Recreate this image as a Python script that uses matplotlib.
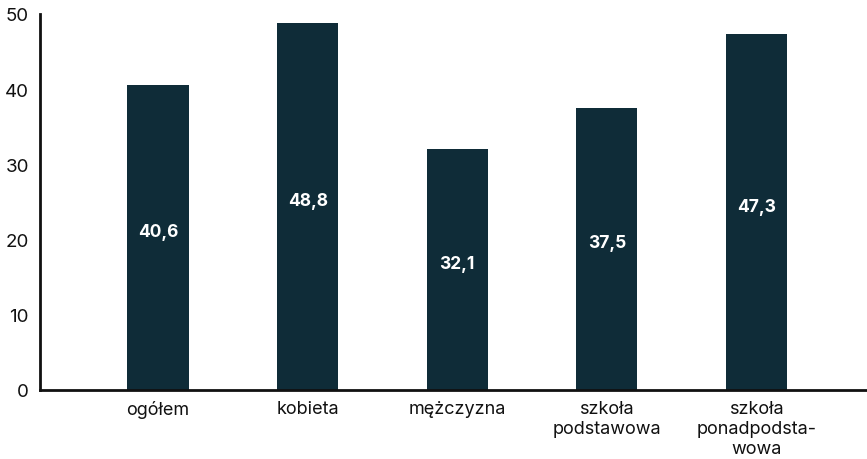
import matplotlib.pyplot as plt
import numpy as np

plt.rcParams['font.family'] = ['Inter', 'DejaVu Sans']

categories = ['ogółem', 'kobieta', 'mężczyzna', 'szkoła\npodstawowa', 'szkoła\nponadpodsta-\nwowa']
values = [40.6, 48.8, 32.1, 37.5, 47.3]
value_labels = ['40,6', '48,8', '32,1', '37,5', '47,3']
yticks = [0, 10, 20, 30, 40, 50]

fig = plt.figure(figsize=(8.67, 4.6), dpi=100)
ax = fig.add_axes([40 / 867, 69 / 460, 1 - 40 / 867, (391 - 15) / 460])

x = np.arange(len(categories))
bars = ax.bar(x, values, width=0.41, color='#0f2c38')

for xi, v, lab in zip(x, values, value_labels):
    ax.text(xi, v / 2 + 0.8, lab, color='white', fontsize=12.5, fontweight='bold',
            ha='center', va='center')

ax.set_xlim(-0.79, 4.74)
ax.set_ylim(0, 50)
ax.set_yticks(yticks)
ax.set_xticks(x)
ax.set_xticklabels(categories, fontsize=13, linespacing=1.25)
ax.tick_params(axis='both', length=0, labelsize=13.5, colors='#111111')
ax.tick_params(axis='x', labelsize=13, pad=7)
ax.tick_params(axis='y', pad=8)

for s in ['top', 'right']:
    ax.spines[s].set_visible(False)
for s in ['left', 'bottom']:
    ax.spines[s].set_linewidth(2)
    ax.spines[s].set_color('#111111')

fig.savefig('out.png', dpi=100)
